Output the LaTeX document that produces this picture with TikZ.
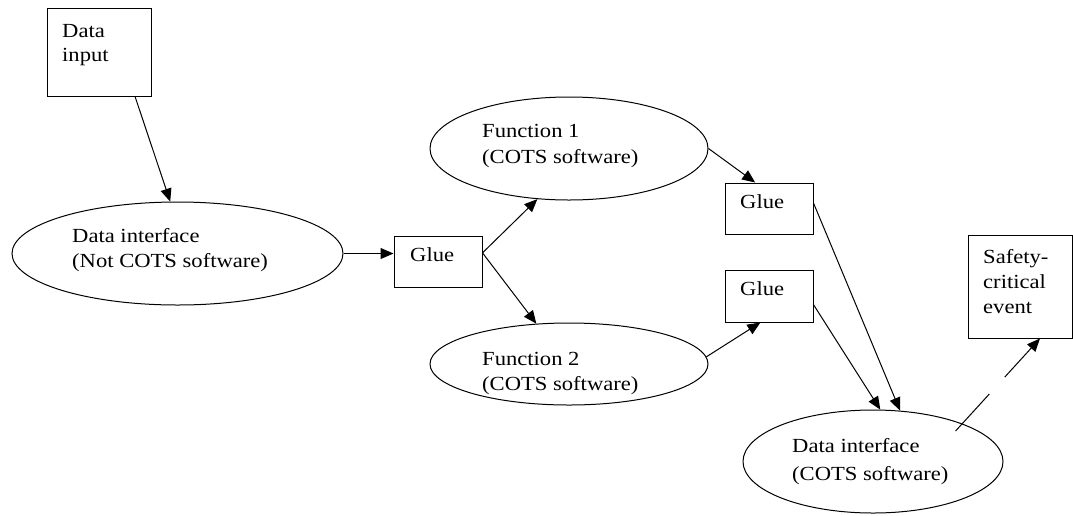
\documentclass[tikz,border=0pt]{standalone}
\usepackage{fontspec}
\setmainfont{Liberation Serif}[FakeStretch=1.13]
\usetikzlibrary{arrows.meta,shapes.geometric}
\tikzset{
  shapeline/.style={draw=black,line width=1pt,inner sep=0pt},
  boxnode/.style={shapeline,rectangle},
  ovalnode/.style={shapeline,ellipse},
  % anchored at the baseline of the last line
  label/.style={anchor=base west,inner sep=0pt,align=left,
    font=\fontsize{20}{25}\selectfont},
  flow/.style={draw=black,line width=1pt,
    -{Triangle[length=13pt,width=11pt]}},
}
\begin{document}
\begin{tikzpicture}[x=1pt,y=-1pt]
\useasboundingbox (0,0) rectangle (1073,515);
\fill[white] (0,0) rectangle (1073,515);

% shapes
\node[boxnode,minimum width=104pt,minimum height=88pt] (din) at (99,52) {};
\node[ovalnode,minimum width=331pt,minimum height=103pt] (ei) at (177.5,253.5) {};
\node[boxnode,minimum width=88pt,minimum height=51pt] (ga) at (438,261.5) {};
\node[ovalnode,minimum width=278pt,minimum height=103pt] (fa) at (569,148.5) {};
\node[ovalnode,minimum width=278pt,minimum height=82pt] (fb) at (569,364) {};
\node[boxnode,minimum width=88pt,minimum height=51pt] (gb) at (769,208.5) {};
\node[boxnode,minimum width=88pt,minimum height=52pt] (gc) at (769,296) {};
\node[ovalnode,minimum width=260pt,minimum height=103pt] (eo) at (873,461.5) {};
\node[boxnode,minimum width=104pt,minimum height=103pt] (sc) at (1020,286.5) {};

% texts
\node[label,font=\fontsize{20}{24}\selectfont] (tdin) at (62,61) {Data\\input};
\node[label] (tei) at (72,267) {Data interface\\(Not COTS software)};
\node[label] (tga) at (410,261) {Glue};
\node[label,font=\fontsize{20}{26}\selectfont] (tfa) at (482,163) {Function 1\\(COTS software)};
\node[label] (tfb) at (482,390) {Function 2\\(COTS software)};
\node[label] (tgb) at (740,208) {Glue};
\node[label] (tgc) at (740,295) {Glue};
\node[label,font=\fontsize{20}{28}\selectfont] (teo) at (792,480) {Data interface\\(COTS software)};
\node[label] (tsc) at (983,313) {Safety-\\critical\\event};

% connectors
\draw[flow] (din.-51.5) -- (ei.98.3);
\draw[flow] (ei.east) -- (ei.east -| ga.west);
\draw[flow] (ga.11) -- (fa.-122.7);
\draw[flow] (ga.11) -- (fb.129.8);
\draw[flow] (fa.-0.6) -- (gb.118.8);
\draw[flow] (fb.3) -- (gc.-108.4);
\draw[flow] (gb.7.1) -- (eo.62.3);
\draw[flow] (gc.-11.6) -- (eo.82.3);
\draw[flow,shorten <=-10pt,dash pattern=on 50pt off 23pt on 200pt off 0pt]
  (eo.23) -- (sc.-69.8);
\end{tikzpicture}
\end{document}
